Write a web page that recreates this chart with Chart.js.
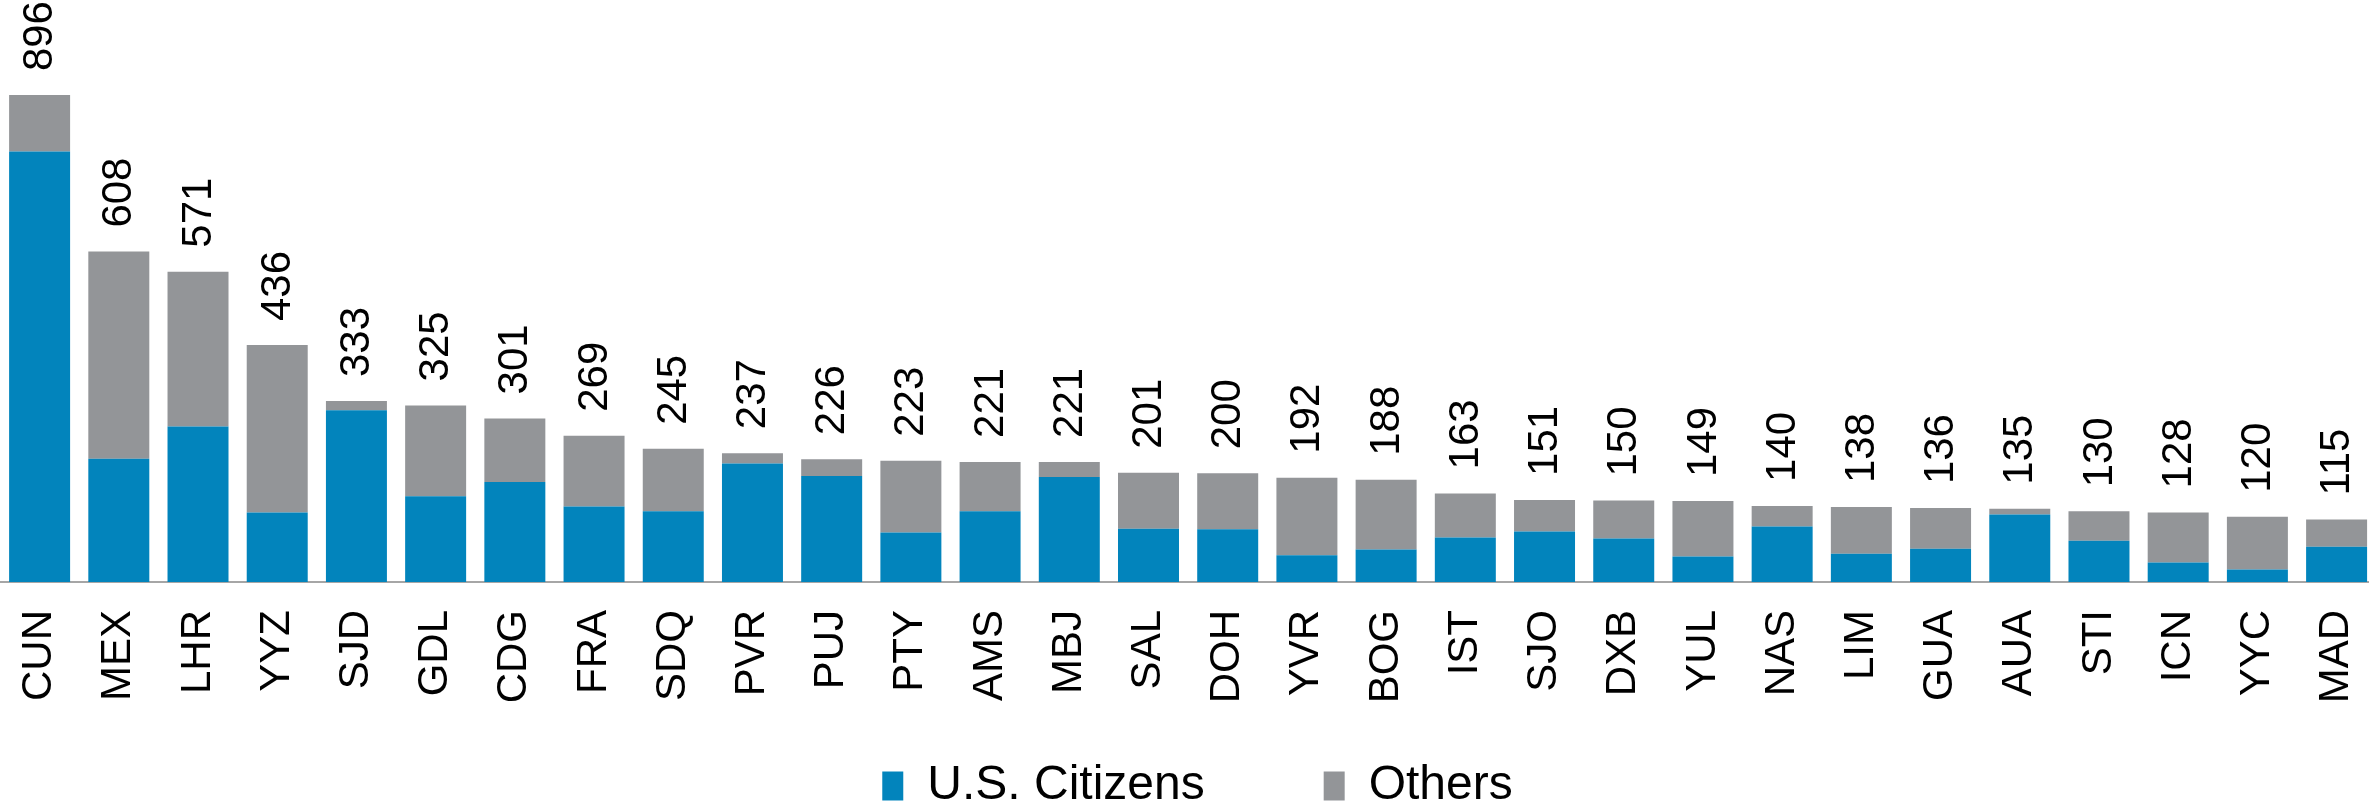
<!DOCTYPE html>
<html>
<head>
<meta charset="utf-8">
<script src="https://cdn.jsdelivr.net/npm/chart.js@4/dist/chart.umd.min.js"></script>
<style>
    html, body { margin: 0; padding: 0; background: #fff; overflow: hidden; }
    canvas { display: block; }
</style>
</head>
<body>
<canvas id="airportChart" width="2415" height="820"></canvas>
<script>
// airports and arrivals (thousands)
const airports = ["CUN", "MEX", "LHR", "YYZ", "SJD", "GDL", "CDG", "FRA", "SDQ", "PVR",
    "PUJ", "PTY", "AMS", "MBJ", "SAL", "DOH", "YVR", "BOG", "IST", "SJO",
    "DXB", "YUL", "NAS", "LIM", "GUA", "AUA", "STI", "ICN", "YYC", "MAD"];
const usCitizens = [792, 227, 286, 128, 316, 158, 184, 139, 130, 218,
    195, 91, 130, 193, 98, 97, 49, 60, 82, 93,
    80, 47, 102, 52, 61, 124, 76, 36, 23, 65];
const others = [104, 381, 285, 308, 17, 167, 117, 130, 115, 19,
    31, 132, 91, 28, 103, 103, 143, 128, 81, 58,
    70, 102, 38, 86, 75, 11, 54, 92, 97, 50];

const BLUE = "#0284bc";
const GREY = "#939598";
const FONT = "'Liberation Sans', Arial, sans-serif";

// total above each stack, rotated like the original
const totalLabels = {
    id: "totalLabels",
    afterDatasetsDraw(chart) {
        const meta = chart.getDatasetMeta(1);
        const ctx = chart.ctx;
        ctx.save();
        ctx.font = "42px " + FONT;
        ctx.fillStyle = "#000";
        ctx.textAlign = "left";
        ctx.textBaseline = "middle";
        meta.data.forEach((bar, i) => {
            const total = usCitizens[i] + others[i];
            ctx.save();
            ctx.translate(bar.x + 1, bar.y - 24);
            ctx.rotate(-Math.PI / 2);
            ctx.fillText(String(total), 0, 0);
            ctx.restore();
        });
        ctx.restore();
    },
};

// x axis box is kept short so the legend can sit low; let the labels run past it.
// legend nudged left a little (canvas is wider than the window)
const labelRoom = {
    id: "labelRoom",
    afterLayout(chart) {
        chart.scales.x.bottom = chart.height;
        chart.legend.left -= 10;
        chart.legend.right -= 10;
    },
};

new Chart(document.getElementById("airportChart").getContext("2d"), {
    type: "bar",
    data: {
        labels: airports,
        datasets: [
            {
                label: "U.S. Citizens",
                data: usCitizens,
                backgroundColor: BLUE,
                borderWidth: 0,
                categoryPercentage: 1,
                barPercentage: 0.77,
            },
            {
                label: "Others",
                data: others,
                backgroundColor: GREY,
                borderWidth: 0,
                categoryPercentage: 1,
                barPercentage: 0.77,
            },
        ],
    },
    options: {
        responsive: false,
        animation: false,
        layout: { padding: 0 },
        plugins: {
            legend: {
                display: true,
                position: "bottom",
                labels: {
                    boxWidth: 21,
                    boxHeight: 29,
                    padding: 119,
                    color: "#000",
                    font: { family: FONT, size: 48 },
                },
            },
            tooltip: { enabled: false },
        },
        scales: {
            x: {
                stacked: true,
                grid: { display: false, drawTicks: false },
                border: { display: true, color: "#a6a6a6", width: 2 },
                ticks: {
                    autoSkip: false,
                    maxRotation: 90,
                    minRotation: 90,
                    padding: 28,
                    color: "#000",
                    font: { family: FONT, size: 42 },
                },
                afterFit(scale) {
                    scale.height = 61;
                },
            },
            y: {
                stacked: true,
                display: false,
                min: 0,
                max: 1071,
            },
        },
    },
    plugins: [totalLabels, labelRoom],
});
</script>
</body>
</html>
